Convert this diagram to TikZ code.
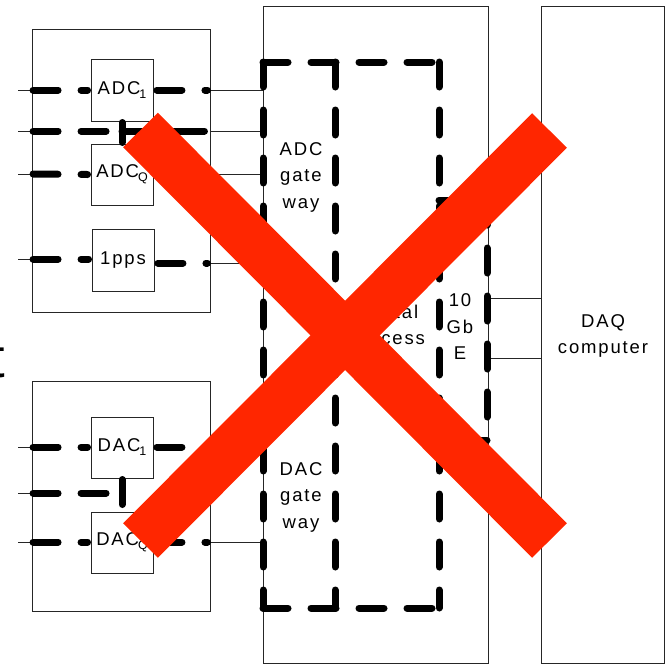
\documentclass[tikz,border=0pt]{standalone}
\usepackage{fontspec}
\setmainfont{Liberation Sans}
\newfontfamily\lbl{Liberation Sans}[LetterSpace=10]
\newcommand\subtx[1]{\kern-1pt\raisebox{-4pt}{\fontsize{12.5}{12.5}\selectfont #1}}
\definecolor{xred}{RGB}{255,38,0}
\begin{document}
\begin{tikzpicture}[x=1pt,y=-1pt,
  box/.style={draw=black!85, line width=0.9pt, inner sep=0pt, font=\lbl\fontsize{18.5}{26.5}\selectfont},
  lbltext/.style={inner sep=0pt, align=center, font=\lbl\fontsize{18.5}{26.5}\selectfont},
  wire/.style={draw=black!85, line width=0.9pt},
  bolddash/.style={draw=black, line width=7pt, line cap=round, line join=round, dash pattern=on 25pt off 23pt},
  boldline/.style={draw=black, line width=7pt, line cap=round},
  crossbar/.style={draw=xred, line width=49pt, line cap=butt}]
\useasboundingbox (0,0) rectangle (667,665);

% partial large glyph at the left edge
\node[anchor=base east, inner sep=0pt, font=\fontsize{56}{56}\selectfont] (tpart) at (5.5,377) {t};

% boards and blocks
\node[box, minimum width=178pt, minimum height=283pt] (adcboard) at (121,170.5) {};
\node[box, minimum width=62pt, minimum height=62pt] (adci) at (122,90) {ADC\subtx{1}};
\node[box, minimum width=62pt, minimum height=61pt] (adcq) at (122,174.5) {ADC\subtx{Q}};
\node[box, minimum width=62pt, minimum height=62pt] (pps) at (123,260) {1pps};
\node[box, minimum width=178pt, minimum height=230pt] (dacboard) at (121,496) {};
\node[box, minimum width=62pt, minimum height=61pt] (daci) at (122,447.5) {DAC\subtx{1}};
\node[box, minimum width=62pt, minimum height=61pt] (dacq) at (122,542.5) {DAC\subtx{Q}};
\node[box, minimum width=225pt, minimum height=657pt] (fpga) at (375.5,334.5) {};
\node[box, minimum width=123pt, minimum height=657pt] (daq) at (602.5,334.5) {};

% texts
\node[lbltext] (adcgw) at (301,177) {ADC\\gate\\way};
\node[lbltext] (dacgw) at (301,497) {DAC\\gate\\way};
\node[lbltext] (proc) at (387,338) {Digital\\process\\unit};
\node[lbltext] (gbe) at (460,327) {10\\Gb\\E};
\node[lbltext] (daqtxt) at (603,336) {DAQ\\computer};

% row levels
\coordinate (yA1) at (0,90);
\coordinate (yA2) at (0,131);
\coordinate (yA3) at (0,174);
\coordinate (yA4) at (0,259);
\coordinate (yA4r) at (0,263);
\coordinate (yD1) at (0,447);
\coordinate (yD2) at (0,493);
\coordinate (yD3) at (0,542);
\coordinate (yE1) at (0,298);
\coordinate (yE2) at (0,358);

% free input ends
\coordinate (inA1) at (18,90);
\coordinate (inA2) at (18,131);
\coordinate (inA3) at (18,174);
\coordinate (inA4) at (18,259);
\coordinate (inD1) at (18,447);
\coordinate (inD2) at (18,493);
\coordinate (inD3) at (18,542);

% thin connectors
\foreach \c in {inA1,inA2,inA3,inA4}{\draw[wire] (\c) -- (adcboard.west |- \c);}
\foreach \c in {inD1,inD2,inD3}{\draw[wire] (\c) -- (dacboard.west |- \c);}
\draw[wire] (adcboard.east |- yA1) -- (fpga.west |- yA1);
\draw[wire] (adcboard.east |- yA2) -- (fpga.west |- yA2);
\draw[wire] (adcq.east) -- (fpga.west |- adcq);
\draw[wire] (adcboard.east |- yA4r) -- (fpga.west |- yA4r);
\draw[wire] (dacboard.east |- yD1) -- (fpga.west |- yD1);
\draw[wire] (dacboard.east |- yD3) -- (fpga.west |- yD3);
\draw[wire] (fpga.east |- yE1) -- (daq.west |- yE1);
\draw[wire] (fpga.east |- yE2) -- (daq.west |- yE2);

% bold dashed overlays on the boards
\draw[bolddash] ([xshift=1.5pt]adcboard.west |- yA1) -- ([xshift=-3pt]adci.west);
\draw[bolddash] ([xshift=3.5pt]adci.east) -- ([xshift=-3pt]adcboard.east |- adci);
\draw[bolddash] ([xshift=1.5pt]adcboard.west |- yA2) -- (110,131);
\draw[boldline] (122,131) -- ([xshift=-6pt]adcboard.east |- yA2);
\draw[boldline] (122,122.5) -- (122,142.5);
\draw[bolddash] ([xshift=1.5pt]adcboard.west |- yA3) -- ([xshift=-3pt]adcq.west);
\draw[bolddash] ([xshift=1.5pt]adcboard.west |- yA4) -- ([xshift=-3pt]pps.west |- yA4);
\draw[bolddash] ([xshift=3.5pt]pps.east |- yA4r) -- ([xshift=-3pt]adcboard.east |- yA4r);

\draw[bolddash] ([xshift=1.5pt]dacboard.west |- yD1) -- ([xshift=-3pt]daci.west |- yD1);
\draw[bolddash] ([xshift=3.5pt]daci.east |- yD1) -- ([xshift=-3pt]dacboard.east |- yD1);
\draw[bolddash] ([xshift=1.5pt]dacboard.west |- yD2) -- (110,493);
\draw[boldline] (122,479.5) -- (122,504.5);
\draw[bolddash] ([xshift=1.5pt]dacboard.west |- yD3) -- ([xshift=-3pt]dacq.west |- yD3);
\draw[bolddash] ([xshift=3.5pt]dacq.east |- yD3) -- ([xshift=-3pt]dacboard.east |- yD3);

% bold dashed partitions in the middle block
\coordinate (pTL) at (263,62);
\coordinate (pTM) at (335,62);
\coordinate (pTR) at (439,62);
\coordinate (pBL) at (263,608);
\coordinate (pBM) at (335,608);
\coordinate (pBR) at (439,608);
\coordinate (eTL) at (439,200);
\coordinate (eTR) at (487,200);
\coordinate (eBR) at (487,440);
\coordinate (eBL) at (439,440);
\draw[bolddash] (pTL) -- (pTR);
\draw[bolddash] (pTL) -- (pBL);
\draw[bolddash] (pTM) -- (pBM);
\draw[bolddash] (pTR) -- (pBR);
\draw[bolddash] (pBL) -- (pBR);
\draw[bolddash] (eTL) -- (eTR) -- (eBR) -- (eBL);

% red cross
\coordinate (x1a) at (140.5,130);
\coordinate (x1b) at (549.5,540.5);
\coordinate (x2a) at (140.5,540.5);
\coordinate (x2b) at (549.5,130.5);
\draw[crossbar] (x1a) -- (x1b);
\draw[crossbar] (x2a) -- (x2b);
\end{tikzpicture}
\end{document}
